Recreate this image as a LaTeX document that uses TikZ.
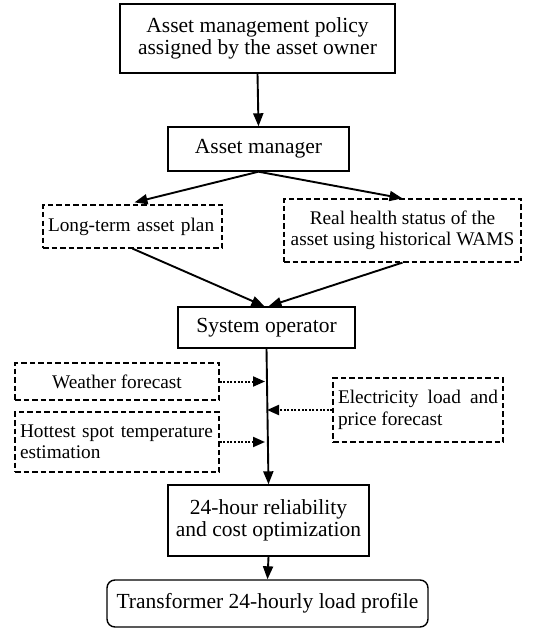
\documentclass[tikz,border=0pt]{standalone}
\usepackage{fontspec}
\setmainfont{Liberation Serif}
\usetikzlibrary{arrows.meta,positioning}

\begin{document}
\begin{tikzpicture}[x=1pt,y=-1pt,
    solidbox/.style={draw,line width=1.4pt,font=\fontsize{21.5}{22.5}\selectfont,inner sep=0pt,align=center},
    dashbox/.style={draw,line width=1.2pt,dash pattern=on 5.5pt off 3pt,font=\fontsize{19.3}{21.5}\selectfont,inner xsep=5pt,inner ysep=0pt},
    arr/.style={-{Triangle[length=13pt,width=10pt]},line width=1.9pt},
    dotarr/.style={-{Triangle[length=12pt,width=10pt]},line width=2pt,dash pattern=on 2pt off 1.6pt}]
    \useasboundingbox (0,0) rectangle (535,628);

    % chain of decisions
    \node[solidbox,minimum width=275pt,minimum height=69pt] (owner) at (257.5,38.5) {Asset management policy\\assigned by the asset owner};
    \node[solidbox,minimum width=181pt,minimum height=44pt] (manager) at (258.5,149) {Asset manager};
    \node[dashbox,minimum height=43pt,text width=169pt,align=left] (plan) at (132.5,226.5) {Long-term asset plan};
    \node[dashbox,minimum width=237pt,minimum height=63pt,align=center] (health) at (402.5,230.5) {Real health status of the\\asset using historical WAMS};
    \node[solidbox,minimum width=177pt,minimum height=41pt] (operator) at (266.5,327.5) {System operator};

    % inputs of the optimization
    \node[dashbox,minimum width=204pt,minimum height=37pt,align=center] (weather) at (117,381.5) {Weather forecast};
    \node[dashbox,minimum height=64pt,text width=160pt,align=justify] (load) at (418,410) {Electricity load and price forecast};
    \node[dashbox,minimum height=60pt,text width=194pt,align=left] (hottest) at (117,442) {Hottest spot temperature estimation};

    \node[solidbox,minimum width=201pt,minimum height=71pt] (optim) at (268.5,520.5) {24-hour reliability\\and cost optimization};
    \node[solidbox,rounded corners=8pt,minimum width=321pt,minimum height=47pt] (profile) at (267.5,603.5) {Transformer 24-hourly load profile};

    \draw[arr] (owner.south) -- (manager.north);
    \draw[arr] (manager.south) -- ([xshift=2pt,yshift=2pt]plan.north);
    \draw[arr] (manager.south) -- (health.north);
    \draw[arr] (plan.south) -- ([xshift=-2pt]operator.north);
    \draw[arr] (health.south) -- ([xshift=2pt]operator.north);
    \draw[arr] (operator.south) -- (optim.north);
    \draw[arr] (optim.south) -- (profile.north);

    \coordinate (wIn) at (weather.east -| operator.south);
    \coordinate (lIn) at (load.west -| operator.south);
    \coordinate (hIn) at (hottest.east -| operator.south);
    \draw[dotarr,shorten >=1.5pt] (weather.east) -- (wIn);
    \draw[dotarr,shorten >=0.5pt] (load.west) -- (lIn);
    \draw[dotarr,shorten >=1.5pt] (hottest.east) -- (hIn);
\end{tikzpicture}
\end{document}
